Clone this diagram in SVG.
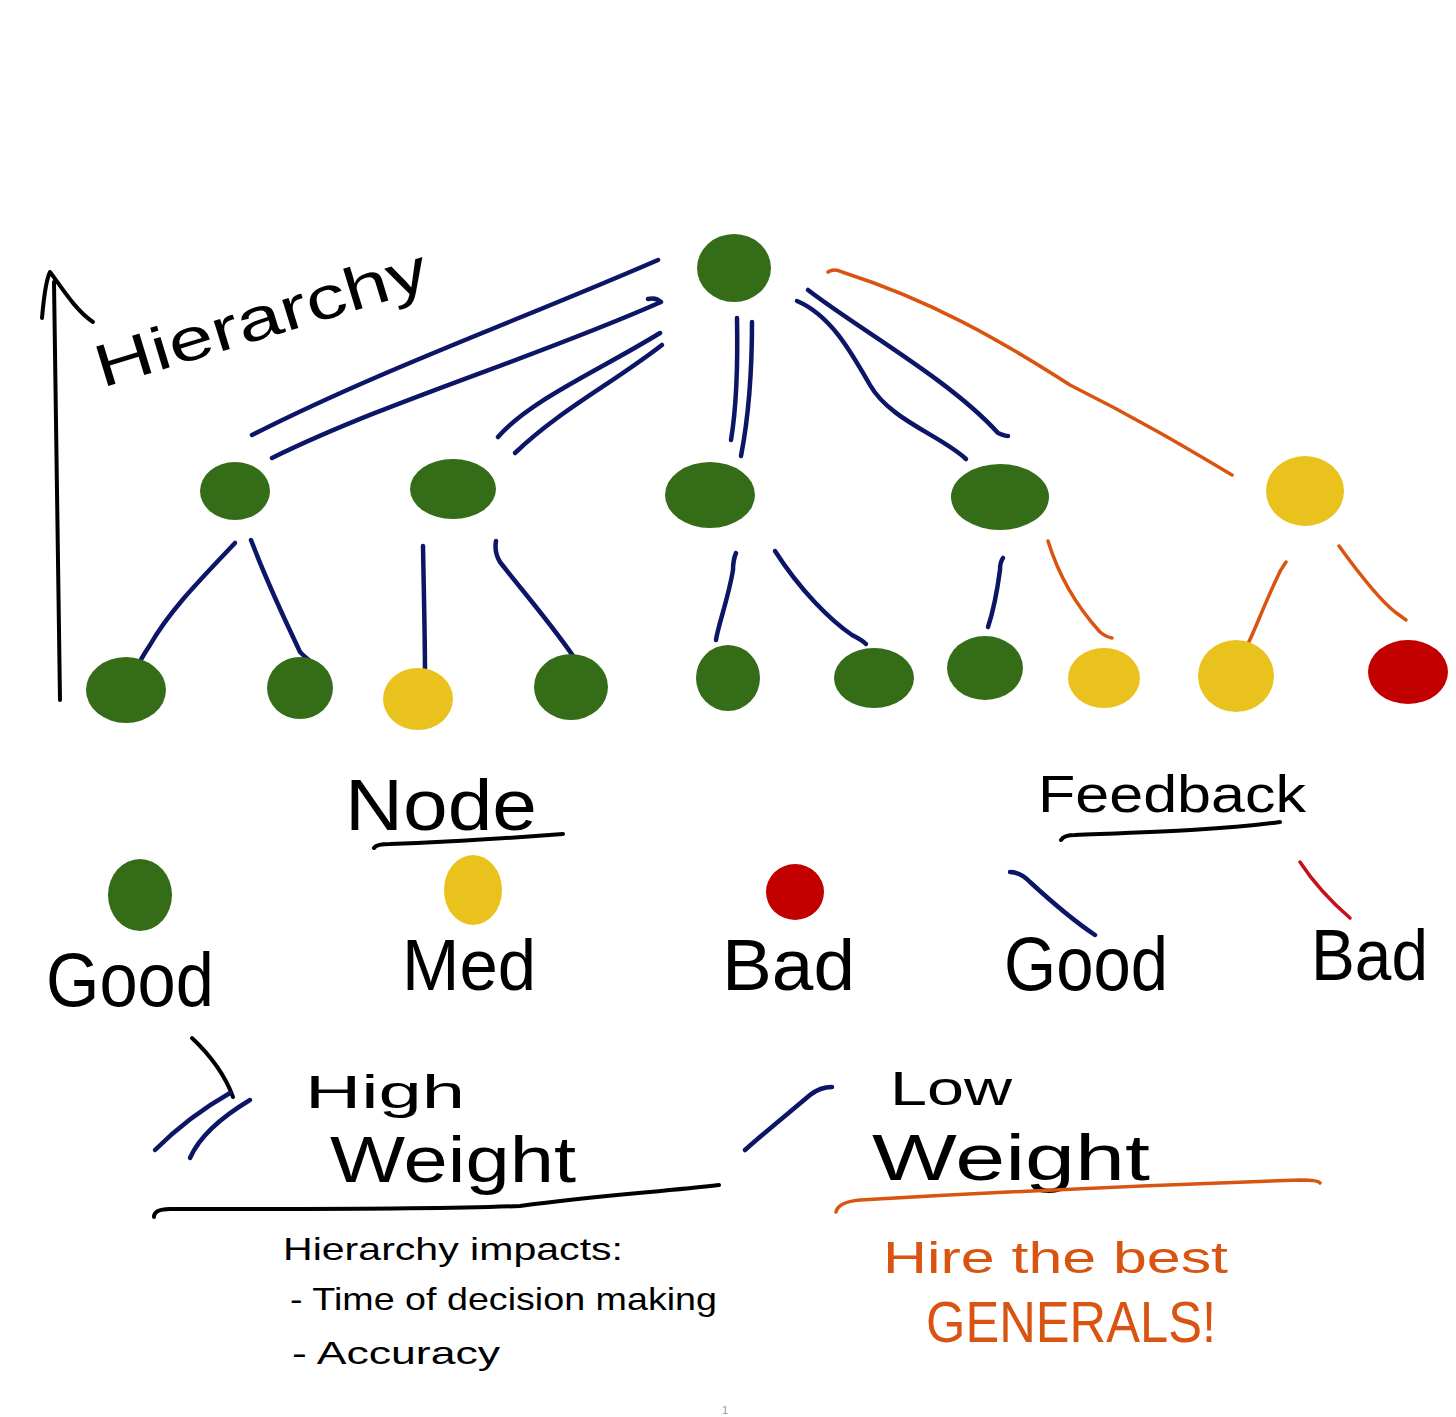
<svg xmlns="http://www.w3.org/2000/svg" width="1456" height="1417" viewBox="0 0 1456 1417">
<style>
.g{fill:#356c17}.y{fill:#eac21e}.r{fill:#c30000}
.nv{fill:none;stroke:#0d1566;stroke-width:4.5;stroke-linecap:round;stroke-linejoin:round}
.or{fill:none;stroke:#d95410;stroke-width:3.5;stroke-linecap:round;stroke-linejoin:round}
.rd{fill:none;stroke:#c8101a;stroke-width:3.5;stroke-linecap:round}
.bk{fill:none;stroke:#000;stroke-width:4;stroke-linecap:round;stroke-linejoin:round}
.t{font-family:"Liberation Sans",Arial,sans-serif;fill:#000}
.to{font-family:"Liberation Sans",Arial,sans-serif;fill:#d95410}
</style>
<rect width="1456" height="1417" fill="#fff"/>
<g id="connectors">
<path class="nv" d="M658 260 C520 320 380 370 252 435"/>
<path class="nv" d="M648 299 Q656 297 661 302 M661 302 C530 360 390 400 272 458"/>
<path class="nv" d="M660 333 C600 370 530 400 498 437"/>
<path class="nv" d="M662 345 C610 385 560 410 515 453"/>
<path class="nv" d="M737 318 C738 370 736 410 731 440"/>
<path class="nv" d="M752 322 C752 380 748 420 741 456"/>
<path class="nv" d="M797 301 C830 315 850 350 870 385 C890 420 940 435 966 459"/>
<path class="nv" d="M808 290 C860 330 950 380 998 433 Q1005 436 1008 436"/>
<path class="or" d="M828 272 Q834 268 842 272 C930 300 1000 340 1070 385 C1140 420 1190 450 1232 475"/>
<path class="nv" d="M235 543 C200 580 170 610 150 645 Q140 660 137 668"/>
<path class="nv" d="M251 540 C270 590 290 630 300 652 Q306 658 309 660"/>
<path class="nv" d="M423 546 C424 600 425 640 425 675"/>
<path class="nv" d="M496 541 Q494 552 500 562 C530 600 560 635 577 662"/>
<path class="nv" d="M736 553 Q733 560 733 570 C728 600 718 625 716 640"/>
<path class="nv" d="M775 551 C800 590 830 620 852 635 Q862 640 866 644"/>
<path class="nv" d="M1003 558 Q1000 562 1000 570 C996 600 992 615 988 627"/>
<path class="or" d="M1048 541 C1060 580 1080 610 1100 632 Q1106 637 1112 638"/>
<path class="or" d="M1286 562 Q1280 570 1276 580 C1262 610 1255 630 1246 648"/>
<path class="or" d="M1339 546 C1360 575 1380 600 1395 612 Q1402 617 1406 620"/>
</g>
<g id="node-root"><ellipse class="g" cx="734" cy="268" rx="37" ry="34"/></g>
<g id="node-l2-1"><ellipse class="g" cx="235" cy="491" rx="35" ry="29"/></g>
<g id="node-l2-2"><ellipse class="g" cx="453" cy="489" rx="43" ry="30"/></g>
<g id="node-l2-3"><ellipse class="g" cx="710" cy="495" rx="45" ry="33"/></g>
<g id="node-l2-4"><ellipse class="g" cx="1000" cy="497" rx="49" ry="33"/></g>
<g id="node-l2-5"><ellipse class="y" cx="1305" cy="491" rx="39" ry="35"/></g>
<g id="node-l3-1"><ellipse class="g" cx="126" cy="690" rx="40" ry="33"/></g>
<g id="node-l3-2"><ellipse class="g" cx="300" cy="688" rx="33" ry="31"/></g>
<g id="node-l3-3"><ellipse class="y" cx="418" cy="699" rx="35" ry="31"/></g>
<g id="node-l3-4"><ellipse class="g" cx="571" cy="687" rx="37" ry="33"/></g>
<g id="node-l3-5"><ellipse class="g" cx="728" cy="678" rx="32" ry="33"/></g>
<g id="node-l3-6"><ellipse class="g" cx="874" cy="678" rx="40" ry="30"/></g>
<g id="node-l3-7"><ellipse class="g" cx="985" cy="668" rx="38" ry="32"/></g>
<g id="node-l3-8"><ellipse class="y" cx="1104" cy="678" rx="36" ry="30"/></g>
<g id="node-l3-9"><ellipse class="y" cx="1236" cy="676" rx="38" ry="36"/></g>
<g id="node-l3-10"><ellipse class="r" cx="1408" cy="672" rx="40" ry="32"/></g>
<g id="hierarchy-axis">
<path class="bk" d="M60 700 C58 560 56 420 54 282"/>
<path class="bk" d="M42 318 C44 295 46 280 50 272 C60 285 75 310 93 322"/>
<text class="t" font-size="60" transform="translate(102 388) rotate(-17)" textLength="345" lengthAdjust="spacingAndGlyphs">Hierarchy</text>
</g>
<g id="legend-node">
<text class="t" font-size="72" x="345" y="830" textLength="192" lengthAdjust="spacingAndGlyphs">Node</text>
<path class="bk" d="M374 848 Q376 844 390 844 C450 842 510 838 563 834"/>
<ellipse class="g" cx="140" cy="895" rx="32" ry="36"/>
<ellipse class="y" cx="473" cy="890" rx="29" ry="35"/>
<ellipse class="r" cx="795" cy="892" rx="29" ry="28"/>
<text class="t" font-size="76" x="46" y="1006" textLength="168" lengthAdjust="spacingAndGlyphs">Good</text>
<text class="t" font-size="72" x="402" y="990" textLength="134" lengthAdjust="spacingAndGlyphs">Med</text>
<text class="t" font-size="72" x="722" y="990" textLength="133" lengthAdjust="spacingAndGlyphs">Bad</text>
</g>
<g id="legend-feedback">
<text class="t" font-size="52" x="1038" y="812" textLength="268" lengthAdjust="spacingAndGlyphs">Feedback</text>
<path class="bk" d="M1061 840 Q1064 835 1075 835 C1150 832 1220 830 1280 822"/>
<path class="nv" d="M1010 872 Q1020 872 1030 882 C1055 905 1080 925 1095 935"/>
<path class="rd" d="M1300 862 C1315 885 1335 905 1350 918"/>
<text class="t" font-size="76" x="1004" y="990" textLength="164" lengthAdjust="spacingAndGlyphs">Good</text>
<text class="t" font-size="72" x="1311" y="980" textLength="117" lengthAdjust="spacingAndGlyphs">Bad</text>
</g>
<g id="high-weight">
<path class="bk" d="M192 1038 C210 1055 225 1075 233 1097"/>
<path class="nv" d="M230 1093 C200 1110 175 1130 155 1150"/>
<path class="nv" d="M250 1100 C225 1115 200 1135 190 1158"/>
<text class="t" font-size="46" x="305" y="1108" textLength="160" lengthAdjust="spacingAndGlyphs">High</text>
<text class="t" font-size="64" x="330" y="1182" textLength="246" lengthAdjust="spacingAndGlyphs">Weight</text>
<path class="bk" d="M154 1217 Q154 1209 170 1209 C300 1209 420 1210 520 1206 C600 1195 660 1192 719 1185"/>
</g>
<g id="low-weight">
<path class="nv" d="M832 1087 Q820 1087 810 1095 C790 1112 765 1132 745 1150"/>
<text class="t" font-size="48" x="890" y="1105" textLength="122" lengthAdjust="spacingAndGlyphs">Low</text>
<text class="t" font-size="64" x="872" y="1180" textLength="278" lengthAdjust="spacingAndGlyphs">Weight</text>
<path class="or" d="M836 1212 Q838 1202 860 1200 C1000 1192 1150 1185 1300 1180 Q1318 1180 1320 1183"/>
</g>
<g id="notes">
<text class="t" font-size="32" x="283" y="1260" textLength="340" lengthAdjust="spacingAndGlyphs">Hierarchy impacts:</text>
<text class="t" font-size="32" x="290" y="1310" textLength="427" lengthAdjust="spacingAndGlyphs">- Time of decision making</text>
<text class="t" font-size="32" x="292" y="1364" textLength="208" lengthAdjust="spacingAndGlyphs">- Accuracy</text>
<text class="to" font-size="44" x="883" y="1273" textLength="345" lengthAdjust="spacingAndGlyphs">Hire the best</text>
<text class="to" font-size="58" x="926" y="1342" textLength="290" lengthAdjust="spacingAndGlyphs">GENERALS!</text>
<text font-family="Liberation Sans,Arial,sans-serif" font-size="11" fill="#8a9aa0" x="722" y="1414">1</text>
</g>
</svg>
